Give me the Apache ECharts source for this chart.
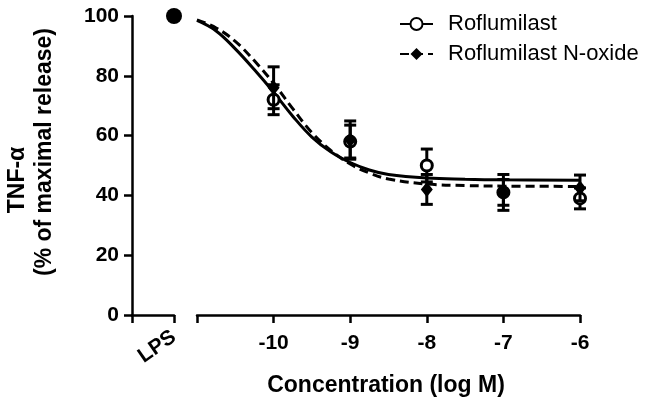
<!DOCTYPE html>
<html><head><meta charset="utf-8">
<script src="https://cdn.jsdelivr.net/npm/echarts@6/dist/echarts.min.js"></script>
<style>html,body{margin:0;padding:0;background:#fff}#c{width:658px;height:412px}</style>
</head><body><div id="c"></div>
<script>
// ---- data ----
const lpsLabel = 'LPS';
const lpsPosition = 1;
const lpsRoflumilast = 100;
const lpsNoxide = 100;
const concentrations = [-10, -9, -8, -7, -6];
const roflumilastMean = [72, 58, 50, 41, 39];
const roflumilastErr = [5, 5.5, 5.5, 6, 3.5];
const noxideMean = [76, 58.5, 42, 41, 42.5];
const noxideErr = [7, 6.4, 5, 4.3, 4.3];
const fitX = [-11, -10.75, -10.5, -10.25, -10, -9.75, -9.5, -9.25, -9, -8.75, -8.5, -8, -7.5, -7, -6];
const roflumilastFit = [98.5, 95, 89, 82, 74.5, 66.5, 59.5, 54.5, 51, 48.5, 47, 45.8, 45.4, 45.2, 45.1];
const noxideFit = [98.7, 96, 91.5, 85, 77.5, 69, 61, 55, 50.5, 47.5, 45.5, 43.8, 43.3, 43.1, 43];
const yTicks = [0, 20, 40, 60, 80, 100];
const xTicks = [-10, -9, -8, -7, -6];

const FONT = "'Liberation Sans', Arial, sans-serif";
const axisLine = {show: true, lineStyle: {color: '#000', width: 2.5}};
const axisTick = {show: true, length: 8, lineStyle: {color: '#000', width: 2.5}};

function errRender(params, api) {
  const x = api.value(0), lo = api.value(1), hi = api.value(2);
  const a = api.coord([x, hi]), b = api.coord([x, lo]);
  const w = 6;
  const st = {stroke: '#000', lineWidth: 3};
  return {type: 'group', children: [
    {type: 'line', shape: {x1: a[0], y1: a[1], x2: b[0], y2: b[1]}, style: st},
    {type: 'line', shape: {x1: a[0] - w, y1: a[1], x2: a[0] + w, y2: a[1]}, style: st},
    {type: 'line', shape: {x1: b[0] - w, y1: b[1], x2: b[0] + w, y2: b[1]}, style: st}
  ]};
}
const rofErrData = concentrations.map((c, i) => [c, roflumilastMean[i] - roflumilastErr[i], roflumilastMean[i] + roflumilastErr[i]]);
const noxErrData = concentrations.map((c, i) => [c, noxideMean[i] - noxideErr[i], noxideMean[i] + noxideErr[i]]);

const rofSymbol = {symbol: 'circle', symbolSize: 11, itemStyle: {color: '#fff', borderColor: '#000', borderWidth: 3, opacity: 1}};
const noxSymbol = {symbol: 'diamond', symbolSize: [12, 15], itemStyle: {color: '#000', borderColor: '#000', borderWidth: 0, opacity: 1}};

const chart = echarts.init(document.getElementById('c'), null, {renderer: 'canvas'});
chart.setOption({
  animation: false,
  backgroundColor: '#fff',
  textStyle: {fontFamily: FONT},
  grid: [
    {left: 132, width: 42, top: 16, bottom: 97, containLabel: false},
    {left: 197, right: 78, top: 16, bottom: 97, containLabel: false}
  ],
  title: {
    text: 'Concentration (log M)', left: 381, top: 369, textAlign: 'center',
    textStyle: {fontFamily: FONT, fontWeight: 'bold', fontSize: 23, color: '#000'}
  },
  legend: {
    orient: 'vertical', left: 394, top: 8, itemGap: 8, itemWidth: 33, itemHeight: 15,
    data: ['Roflumilast', 'Roflumilast N-oxide'],
    textStyle: {fontFamily: FONT, fontSize: 22, color: '#000', padding: [0, 0, 0, 10]}
  },
  xAxis: [
    {gridIndex: 0, type: 'value', min: 0, max: lpsPosition, interval: 1, axisLine, axisTick,
      splitLine: {show: false},
      axisLabel: {rotate: 35, margin: 20, fontFamily: FONT, fontWeight: 'bold', fontSize: 21, color: '#000',
        formatter: v => v === lpsPosition ? lpsLabel : ''}},
    {gridIndex: 1, type: 'value', min: -11, max: -6, interval: 1, axisLine, axisTick,
      splitLine: {show: false},
      axisLabel: {margin: 18, fontFamily: FONT, fontWeight: 'bold', fontSize: 21, color: '#000',
        formatter: v => xTicks.includes(v) ? String(v) : ''}}
  ],
  yAxis: [
    {gridIndex: 0, type: 'value', min: yTicks[0], max: yTicks[yTicks.length - 1], interval: 20,
      axisLine, axisTick, splitLine: {show: false},
      axisLabel: {margin: 13, fontFamily: FONT, fontWeight: 'bold', fontSize: 21, color: '#000'},
      name: '{t|TNF-α}\n{s|(% of maximal release)}', nameLocation: 'middle', nameGap: 74,
      nameTextStyle: {fontFamily: FONT, fontWeight: 'bold', fontSize: 23, color: '#000', lineHeight: 27,
        rich: {t: {fontFamily: FONT, fontWeight: 'bold', fontSize: 23, color: '#000', padding: [0, 29, 0, 0]},
               s: {fontFamily: FONT, fontWeight: 'bold', fontSize: 23, color: '#000', padding: [0, 0, 0, 27]}}}},
    {gridIndex: 1, type: 'value', min: 0, max: 100, show: false, splitLine: {show: false}}
  ],
  series: [
    {name: 'Roflumilast', type: 'line', xAxisIndex: 1, yAxisIndex: 1, smooth: 0.4, showSymbol: false,
      ...rofSymbol, lineStyle: {color: '#000', width: 3, type: 'solid'},
      data: fitX.map((x, i) => [x, roflumilastFit[i]]), z: 2},
    {name: 'Roflumilast N-oxide', type: 'line', xAxisIndex: 1, yAxisIndex: 1, smooth: 0.4, showSymbol: false,
      ...noxSymbol, lineStyle: {color: '#000', width: 3, type: [9, 5]},
      data: fitX.map((x, i) => [x, noxideFit[i]]), z: 2},
    {name: 'Roflumilast', type: 'custom', xAxisIndex: 1, yAxisIndex: 1, renderItem: errRender,
      encode: {x: 0, y: [1, 2]}, data: rofErrData, z: 3},
    {name: 'Roflumilast', type: 'scatter', xAxisIndex: 1, yAxisIndex: 1, ...rofSymbol,
      data: concentrations.map((c, i) => [c, roflumilastMean[i]]), z: 4},
    {name: 'Roflumilast', type: 'scatter', xAxisIndex: 0, yAxisIndex: 0, symbol: 'circle', symbolSize: 16,
      itemStyle: {color: '#000', borderColor: '#000', borderWidth: 0, opacity: 1},
      data: [[lpsPosition, lpsRoflumilast]], z: 4},
    {name: 'Roflumilast N-oxide', type: 'custom', xAxisIndex: 1, yAxisIndex: 1, renderItem: errRender,
      encode: {x: 0, y: [1, 2]}, data: noxErrData, z: 5},
    {name: 'Roflumilast N-oxide', type: 'scatter', xAxisIndex: 1, yAxisIndex: 1, ...noxSymbol,
      data: concentrations.map((c, i) => [c, noxideMean[i]]), z: 6},
    {name: 'Roflumilast N-oxide', type: 'scatter', xAxisIndex: 0, yAxisIndex: 0, ...noxSymbol,
      data: [[lpsPosition, lpsNoxide]], z: 6}
  ]
});
</script></body></html>
